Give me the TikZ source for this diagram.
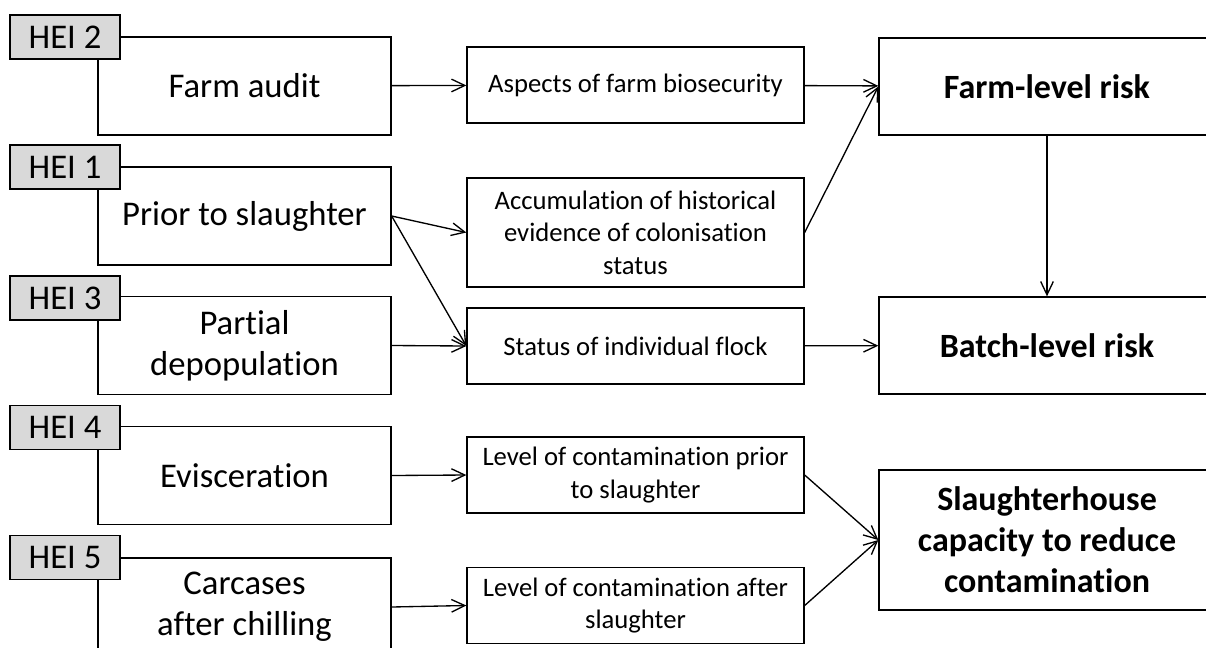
\documentclass[tikz,border=0pt]{standalone}
\usepackage{fontspec}
\setmainfont{Carlito}[Ligatures=CommonOff]
\usetikzlibrary{arrows.meta}
\definecolor{taggray}{HTML}{D9D9D9}

\begin{document}
\begin{tikzpicture}[x=0.75pt,y=-0.75pt,line width=1pt,
  hei/.style={draw,fill=taggray,minimum width=82.5pt,minimum height=33pt,inner sep=0pt,font=\fontsize{26}{31}\selectfont},
  stage/.style={draw,fill=white,minimum width=219.75pt,minimum height=73.5pt,inner sep=0pt,align=center,font=\fontsize{26}{30.5}\selectfont},
  evid/.style={draw,minimum width=252.75pt,minimum height=57pt,inner sep=0pt,align=center,font=\fontsize{20}{24.4}\selectfont},
  risk/.style={draw,minimum width=252pt,minimum height=72.75pt,inner sep=0pt,align=center,font=\fontsize{25.5}{30.8}\selectfont\bfseries},
  link/.style={-{Straight Barb[length=10pt,width=9.5pt]}}]
  \clip (0,0) rectangle (1206,647);

  \node [stage] (audit) at (244.5,86) {Farm audit};
  \node [hei] (hei2) at (65,37) {HEI 2};
  \node [stage] (prior) at (244.5,216) {Prior to slaughter};
  \node [hei] (hei1) at (65,167) {HEI 1};
  \node [stage] (depop) at (244.5,345.5) {Partial\\depopulation};
  \node [hei] (hei3) at (65,298) {HEI 3};
  \node [stage] (evisc) at (244.5,475.5) {Evisceration};
  \node [hei] (hei4) at (65,427.5) {HEI 4};
  \node [stage] (chill) at (244.5,607) {Carcases\\after chilling};
  \node [hei] (hei5) at (65,557.5) {HEI 5};

  \node [evid] (biosec) at (635.5,85) {Aspects of farm biosecurity};
  \node [evid,minimum height=81.75pt] (history) at (635.5,232.5) {Accumulation of historical\\evidence of colonisation\\status};
  \node [evid] (flock) at (635.5,346) {Status of individual flock};
  \node [evid] (before) at (635.5,475) {Level of contamination prior\\to slaughter};
  \node [evid] (after) at (635.5,605.5) {Level of contamination after\\slaughter};

  \node [risk] (farmrisk) at (1047,86.5) {Farm-level risk};
  \node [risk] (batchrisk) at (1047,345.5) {Batch-level risk};
  \node [risk,minimum height=105pt] (plant) at (1047,540) {Slaughterhouse\\capacity to reduce\\contamination};

  \draw [link] (audit) -- (biosec);
  \draw [link] (biosec) -- (farmrisk);
  \draw [link] (history.east) -- (farmrisk.west);
  \draw [link] (prior.east) -- (history.west);
  \draw [link] (prior.east) -- (flock.west);
  \draw [link] (depop.east) -- (flock.west);
  \draw [link] (flock) -- (batchrisk);
  \draw [link] (farmrisk) -- (batchrisk);
  \draw [link] (evisc.east) -- (before.west);
  \draw [link] (chill.east) -- (after.west);
  \draw [link] (before.east) -- (plant.west);
  \draw [link] (after.east) -- (plant.west);
\end{tikzpicture}
\end{document}
